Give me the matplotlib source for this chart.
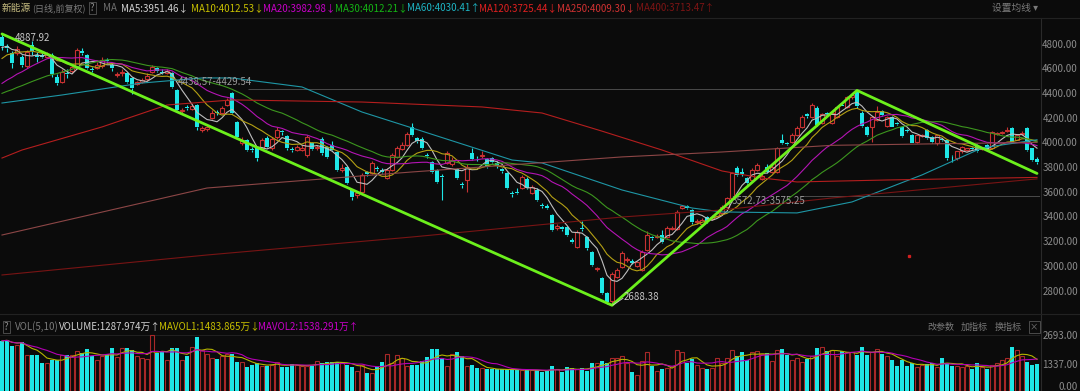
import numpy as np
import pandas as pd
import matplotlib
matplotlib.use('Agg')
import matplotlib.pyplot as plt

plt.rcParams['font.family'] = ['Noto Sans CJK SC', 'DejaVu Sans']

# daily candles of the 新能源 index
opens = [
    4860, 4790, 4730, 4735, 4700, 4625, 4800, 4720, 4715, 4705,
    4720, 4540, 4500, 4575, 4585, 4615, 4750, 4715, 4605, 4610,
    4625, 4675, 4640, 4555, 4570, 4570, 4530, 4480, 4500, 4520,
    4580, 4610, 4580, 4570, 4570, 4430, 4265, 4295, 4280, 4310,
    4110, 4115, 4210, 4255, 4250, 4310, 4410, 4175, 4005, 4030,
    3955, 3960, 3965, 4045, 3960, 4050, 4100, 4060, 3955, 3945,
    3950, 3905, 4000, 3960, 4040, 3970, 3990, 3930, 3785, 3810,
    3625, 3580, 3605, 3765, 3760, 3805, 3785, 3720, 3785, 3890,
    3955, 3990, 4135, 4045, 4035, 3905, 3850, 3785, 3735, 3840,
    3830, 3790, 3670, 3700, 3925, 3885, 3895, 3875, 3880, 3840,
    3790, 3760, 3600, 3605, 3640, 3715, 3600, 3620, 3505, 3490,
    3420, 3315, 3320, 3325, 3215, 3160, 3315, 3240, 3120, 2980,
    2910, 2790, 2720, 2920, 3000, 3055, 3050, 3010, 2975, 3135,
    3240, 3240, 3260, 3240, 3305, 3310, 3480, 3490, 3460, 3360,
    3350, 3405, 3390, 3410, 3435, 3485, 3555, 3800, 3765, 3720,
    3705, 3785, 3715, 3810, 3770, 3770, 4030, 4005, 4010, 4070,
    4135, 4235, 4215, 4290, 4165, 4245, 4165, 4215, 4315, 4295,
    4380, 4420, 4250, 4135, 4135, 4190, 4260, 4140, 4215, 4165,
    4135, 4105, 4070, 4010, 4060, 4110, 4050, 4005, 4035, 4030,
    3900, 3880, 3935, 3950, 3960, 3985, 3955, 3985, 3965, 4075,
    4085, 4100, 4125, 4030, 4075, 4125, 3960, 3875]
highs = [
    4887.92, 4810, 4750, 4790, 4720, 4760, 4830, 4740, 4730, 4740,
    4730, 4560, 4600, 4600, 4640, 4770, 4770, 4725, 4620, 4660,
    4700, 4690, 4650, 4580, 4600, 4580, 4540, 4510, 4530, 4570,
    4635, 4620, 4600, 4600, 4580, 4440, 4290, 4310, 4320, 4320,
    4140, 4150, 4270, 4270, 4300, 4370, 4420, 4180, 4050, 4040,
    3970, 3970, 4045, 4060, 4050, 4130, 4110, 4070, 3970, 3990,
    3985, 4070, 4010, 3990, 4050, 3980, 4020, 3940, 3830, 3820,
    3635, 3610, 3760, 3780, 3855, 3820, 3800, 3800, 3920, 3980,
    4010, 4090, 4165, 4055, 4050, 3920, 3860, 3795, 3750, 3935,
    3890, 3800, 3690, 3830, 3960, 3900, 3935, 3885, 3890, 3860,
    3800, 3770, 3615, 3640, 3745, 3725, 3665, 3640, 3520, 3510,
    3430, 3350, 3335, 3335, 3230, 3300, 3370, 3250, 3130, 3000,
    2920, 2800, 2960, 2990, 3130, 3080, 3060, 3050, 3135, 3290,
    3250, 3265, 3300, 3330, 3330, 3460, 3505, 3500, 3470, 3385,
    3395, 3415, 3420, 3455, 3500, 3570, 3770, 3815, 3800, 3730,
    3800, 3840, 3760, 3830, 3825, 3975, 4080, 4015, 4085, 4140,
    4230, 4250, 4325, 4300, 4250, 4255, 4250, 4300, 4325, 4385,
    4400, 4430, 4260, 4140, 4220, 4300, 4270, 4220, 4225, 4175,
    4145, 4115, 4080, 4070, 4075, 4120, 4060, 4070, 4045, 4040,
    3910, 3940, 3980, 3965, 3975, 3995, 3975, 3995, 4100, 4090,
    4100, 4130, 4135, 4075, 4100, 4135, 3965, 3890]
lows = [
    4760, 4740, 4610, 4720, 4620, 4610, 4720, 4660, 4690, 4690,
    4540, 4470, 4490, 4530, 4570, 4600, 4720, 4600, 4580, 4600,
    4610, 4650, 4590, 4540, 4550, 4490, 4400, 4470, 4490, 4510,
    4570, 4580, 4560, 4560, 4450, 4260, 4250, 4270, 4270, 4110,
    4090, 4100, 4200, 4230, 4240, 4300, 4240, 4040, 3990, 3940,
    3930, 3860, 3955, 3960, 3950, 4040, 4070, 3950, 3930, 3935,
    3940, 3890, 3945, 3950, 3910, 3880, 3940, 3775, 3770, 3670,
    3540, 3560, 3600, 3740, 3750, 3780, 3760, 3710, 3775, 3880,
    3945, 3980, 4060, 4000, 3955, 3880, 3760, 3680, 3540, 3830,
    3820, 3710, 3640, 3610, 3865, 3860, 3880, 3800, 3840, 3800,
    3760, 3630, 3570, 3590, 3630, 3630, 3590, 3530, 3480, 3470,
    3290, 3300, 3290, 3250, 3190, 3150, 3290, 3140, 3005, 2970,
    2780, 2700, 2688.38, 2910, 2990, 3040, 3020, 3000, 2965, 3130,
    3220, 3230, 3190, 3230, 3295, 3300, 3470, 3470, 3350, 3345,
    3340, 3355, 3380, 3400, 3425, 3475, 3545, 3735, 3740, 3670,
    3695, 3775, 3700, 3760, 3760, 3760, 3995, 3985, 4000, 4060,
    4125, 4210, 4205, 4140, 4155, 4225, 4155, 4205, 4300, 4285,
    4360, 4290, 4130, 4060, 4010, 4180, 4225, 4130, 4130, 4150,
    4055, 4090, 4000, 4000, 4050, 4040, 4005, 3990, 4020, 3870,
    3850, 3870, 3925, 3940, 3945, 3930, 3950, 3940, 3955, 4070,
    4080, 4095, 4000, 4025, 4070, 3940, 3860, 3835]
closes = [
    4790, 4770, 4650, 4765, 4640, 4740, 4750, 4700, 4705, 4720,
    4560, 4490, 4580, 4565, 4620, 4760, 4735, 4610, 4595, 4640,
    4680, 4665, 4610, 4565, 4575, 4500, 4450, 4500, 4515, 4550,
    4620, 4590, 4570, 4585, 4460, 4270, 4275, 4285, 4300, 4130,
    4125, 4130, 4250, 4245, 4290, 4350, 4250, 4050, 4030, 3950,
    3945, 3880, 4030, 3970, 4040, 4110, 4090, 3960, 3945, 3970,
    3965, 4050, 3955, 3975, 3920, 3890, 3950, 3785, 3800, 3680,
    3570, 3595, 3745, 3755, 3840, 3795, 3770, 3785, 3905, 3965,
    3990, 4075, 4070, 4020, 3965, 3895, 3770, 3690, 3725, 3920,
    3870, 3720, 3660, 3810, 3875, 3880, 3905, 3810, 3850, 3815,
    3780, 3640, 3590, 3600, 3730, 3640, 3650, 3540, 3495, 3480,
    3300, 3330, 3310, 3260, 3205, 3285, 3305, 3150, 3015, 2990,
    2790, 2715, 2940, 2975, 3115, 3065, 3030, 3040, 3120, 3260,
    3230, 3250, 3200, 3315, 3315, 3445, 3490, 3480, 3365, 3370,
    3380, 3365, 3405, 3440, 3485, 3555, 3760, 3745, 3755, 3680,
    3785, 3825, 3740, 3770, 3810, 3960, 4005, 3995, 4070, 4125,
    4215, 4225, 4310, 4150, 4240, 4235, 4245, 4295, 4305, 4380,
    4390, 4300, 4140, 4070, 4215, 4255, 4230, 4215, 4135, 4160,
    4060, 4100, 4005, 4065, 4068, 4045, 4010, 4065, 4025, 3880,
    3895, 3935, 3975, 3960, 3952, 3935, 3965, 3945, 4090, 4085,
    4095, 4110, 4005, 4065, 4085, 3945, 3865, 3850]
# closes before the first visible day, only used to start the short MAs
prior_closes = [
    4300, 4280, 4250, 4220, 4200, 4230, 4260, 4250, 4240, 4270,
    4250, 4230, 4210, 4240, 4260, 4280, 4270, 4300, 4320, 4340,
    4400, 4480, 4550, 4620, 4650, 4700, 4720, 4780, 4800, 4800]

# volume, 万手
volumes = [
    2397, 2446, 2150, 2183, 2364, 1738, 1738, 1738, 1326, 1326,
    1491, 1491, 1738, 1738, 1738, 1903, 1820, 1985, 1655, 1491,
    1655, 1787, 2067, 1606, 2034, 2034, 1936, 1655, 1573, 1524,
    2694, 1820, 1870, 1491, 2067, 2067, 1491, 1655, 2100, 2562,
    1936, 1771, 1573, 1524, 1655, 1771, 1771, 1375, 1408, 1161,
    1243, 1359, 1210, 1210, 1243, 1408, 1128, 1161, 1293, 1243,
    1210, 1210, 1210, 1442, 1326, 1375, 1375, 1375, 1375, 1243,
    1161, 947, 1243, 881, 881, 1161, 1408, 1771, 1326, 1738,
    1573, 1194, 1243, 1243, 1442, 1622, 1985, 1985, 1573, 1210,
    1771, 1853, 1688, 1194, 1243, 1079, 1079, 1029, 1029, 1029,
    1029, 1029, 1029, 996, 996, 1010, 980, 1000,
    914, 963, 1194, 1029, 914, 1128, 1079, 1029, 1079, 963,
    1359, 1326, 1442, 1326, 1573, 1573, 1655, 1359, 914, 782,
    1442, 1853, 1194, 963, 1029, 1079, 1194, 1952, 1853, 1359,
    1524, 1243, 1079, 1029, 1079, 1573, 1359, 1573, 1952, 1688,
    1853, 1491, 1853, 1903, 1787, 1820, 1442, 1952, 1985, 1738,
    1500, 1600,
    1408, 1524, 1688, 2067, 2100, 1903, 1936, 1655, 1903, 1853,
    1853, 1738, 2100, 1705, 1853, 2018, 1787, 1688, 1491, 1194,
    1458, 1194, 1326, 1161, 1243, 1275, 1326, 1128, 1573, 1359,
    1200,
    1194, 1161, 1194, 1029, 1326, 1128, 1029, 1243, 1359, 1491,
    1573, 2100, 1936, 1688, 1408, 1243, 1288]

# long moving averages, sampled off the chart (day index, value)
ma60_idx = [0, 12, 28, 40, 46, 60, 72, 82, 102, 108, 124, 138, 144, 159, 170, 184, 196, 207]
ma60_val = [4328, 4393, 4490, 4531, 4531, 4458, 4255, 4126, 3866, 3842, 3623, 3477, 3445, 3437, 3526, 3745, 3964, 4030]
ma120_idx = [0, 4, 20, 33, 46, 72, 96, 108, 120, 132, 144, 152, 159, 177, 207]
ma120_val = [3882, 3947, 4134, 4312, 4353, 4336, 4296, 4247, 4100, 3947, 3777, 3720, 3688, 3704, 3725]
ma250_idx = [0, 41, 82, 124, 144, 166, 207]
ma250_val = [3258, 3639, 3769, 3891, 3931, 3985, 4009]
ma400_idx = [0, 41, 82, 124, 144, 166, 207]
ma400_val = [2934, 3096, 3242, 3404, 3461, 3558, 3713]

# drawn trend lines and marks
trend_idx = [0, 122, 171, 207]
trend_val = [4887.92, 2688.38, 4430, 3757]
band_hi = [4438.57, 4429.54]
band_lo = [3572.73, 3575.25]
price_ticks = [4800, 4600, 4400, 4200, 4000, 3800, 3600, 3400, 3200, 3000, 2800]

BG = '#0b0b0b'
RED = '#c83232'
CYAN = '#1ee6e6'
GRAY = '#8c8c8c'
W, H = 1080, 391


def fx(x):
    return x / W


def fy(y):
    return 1 - y / H


o = np.array(opens, float)
c = np.array(closes, float)
h = np.maximum(np.array(highs, float), np.maximum(o, c))
l = np.minimum(np.array(lows, float), np.minimum(o, c))
v = np.array(volumes, float)
idx = np.arange(len(c))
up = c >= o

fig = plt.figure(figsize=(W / 100, H / 100), dpi=100, facecolor=BG)

# ---- price panel
ax = fig.add_axes([0, 80 / H, 1040 / W, 292 / H])
ax.set_xlim(-0.4, 207.6)
ax.set_ylim(2642, 5009)
ax.axis('off')

body_lo = np.minimum(o, c)
body_hi = np.maximum(o, c)
body_h = np.maximum(body_hi - body_lo, 6)
cols = np.where(up, RED, CYAN)
ax.vlines(idx, body_hi, h, colors=cols, lw=0.8, zorder=2)
ax.vlines(idx, l, body_lo, colors=cols, lw=0.8, zorder=2)
ax.bar(idx[up], body_h[up], bottom=body_lo[up], width=0.64,
       facecolor=BG, edgecolor=RED, linewidth=0.8, zorder=3)
ax.bar(idx[~up], body_h[~up], bottom=body_lo[~up], width=0.64,
       color=CYAN, linewidth=0, zorder=3)

allc = pd.Series(prior_closes + closes)
n0 = len(prior_closes)
for n, col in [(5, '#bebebe'), (10, '#b4a014'), (20, '#b414b4'), (30, '#3c961e')]:
    ma = allc.rolling(n).mean().values[n0:]
    ax.plot(idx, ma, color=col, lw=0.8, zorder=4)
ax.plot(ma60_idx, ma60_val, color='#1e96a5', lw=0.8, zorder=4)
ax.plot(ma120_idx, ma120_val, color='#b41e1e', lw=0.8, zorder=4)
ax.plot(ma250_idx, ma250_val, color='#8c4646', lw=0.8, zorder=4)
ax.plot(ma400_idx, ma400_val, color='#781414', lw=0.8, zorder=4)

ax.plot(trend_idx, trend_val, color='#6cf01c', lw=2.0, zorder=6,
        solid_capstyle='round', solid_joinstyle='round')

# price range marks
ax.text(35.2, 4498, '%.2f-%.2f' % tuple(band_hi), color='#9a9a9a', fontsize=7,
        va='center', ha='left', zorder=5)
ax.hlines(band_hi[0], 49.2, 207.6, color='#4a4a4a', lw=0.7, zorder=1)
ax.text(146, 3534, '%.2f-%.2f' % tuple(band_lo), color='#9a9a9a', fontsize=7,
        va='center', ha='left', zorder=5)
ax.hlines(band_lo[1], 159.6, 207.6, color='#4a4a4a', lw=0.7, zorder=1)

ax.text(2.6, 4858, '%.2f' % trend_val[0], color='#c8c8c8', fontsize=7, va='center', zorder=7)
ax.plot([122.2, 124.2], [2690, 2745], color='#c8c8c8', lw=0.6, zorder=7)
ax.text(124.4, 2756, '%.2f' % trend_val[1], color='#c8c8c8', fontsize=7, va='center', zorder=7)
ax.plot([181.4], [3088], 's', ms=1.4, color='#d02020', zorder=5)

for p in price_ticks:
    ax.text(1078 / 1040, p, '%.2f' % p, transform=ax.get_yaxis_transform(),
            ha='right', va='center', color=GRAY, fontsize=7, clip_on=False)

# ---- volume panel
vax = fig.add_axes([0, 0, 1040 / W, 75 / H])
vax.set_xlim(-0.4, 207.6)
vax.set_ylim(0, 3585)
vax.axis('off')
vax.bar(idx[up], v[up], width=0.68, facecolor='none', edgecolor='#a82828', linewidth=0.8)
vax.bar(idx[~up], v[~up], width=0.68, color=CYAN, linewidth=0)
vs = pd.Series(v)
vax.plot(idx, vs.rolling(5, min_periods=1).mean(), color='#b4b400', lw=0.8)
vax.plot(idx, vs.rolling(10, min_periods=1).mean(), color='#b400b4', lw=0.8)
vax.axhline(2693, color='#262626', lw=0.6, zorder=0)

for lab, y in [('2693.00', 336), ('1337.00', 365), ('0.00', 387)]:
    fig.text(fx(1078), fy(y), lab, ha='right', va='center', color=GRAY, fontsize=7)

# ---- frame lines
fig.add_artist(plt.Line2D([fx(1040.5)] * 2, [0, fy(18)], color='#2a2a2a', lw=0.8))
fig.add_artist(plt.Line2D([0, 1], [fy(18)] * 2, color='#222222', lw=0.8))
fig.add_artist(plt.Line2D([0, 1], [fy(314)] * 2, color='#222222', lw=0.8))

# ---- header texts
def label(x, y, s, col, size=7, **kw):
    fig.text(fx(x), fy(y), s, color=col, fontsize=size, va='center', ha='left', **kw)


box = dict(boxstyle='square,pad=0.15', fc='none', ec='#555555', lw=0.6)
label(2, 8, '新能源', '#c8be82')
label(32, 8, '(日线,前复权)', '#7a7a7a', size=6.5)
label(90, 8, '?', '#8c8c8c', bbox=box)
label(103, 8, 'MA', '#6e6e6e')
heads = [(121, 'MA5:3951.46↓', '#d2d2d2'), (191, 'MA10:4012.53↓', '#c8c000'),
         (263, 'MA20:3982.98↓', '#c800c8'), (335, 'MA30:4012.21↓', '#14b414'),
         (407, 'MA60:4030.41↑', '#1eb4c3'), (479, 'MA120:3725.44↓', '#e02020'),
         (557, 'MA250:4009.30↓', '#d23232'), (636, 'MA400:3713.47↑', '#7d1414')]
for x, s, col in heads:
    label(x, 8, s, col)
label(992, 8, '设置均线 ▾', '#7a7a7a')

label(4, 327, '?', '#8c8c8c', bbox=box)
label(15, 327, 'VOL(5,10)', '#7a7a7a')
label(59, 327, 'VOLUME:1287.974万↑', '#d2d2d2')
label(159, 327, 'MAVOL1:1483.865万↓', '#c8c000')
label(258, 327, 'MAVOL2:1538.291万↑', '#c800c8')
label(927, 327, '改参数', '#7a7a7a', size=6.5)
label(961, 327, '加指标', '#7a7a7a', size=6.5)
label(995, 327, '换指标', '#7a7a7a', size=6.5)
label(1030, 327, '×', '#7a7a7a', size=6, bbox=box)

fig.savefig('out.png', dpi=100, facecolor=BG)
